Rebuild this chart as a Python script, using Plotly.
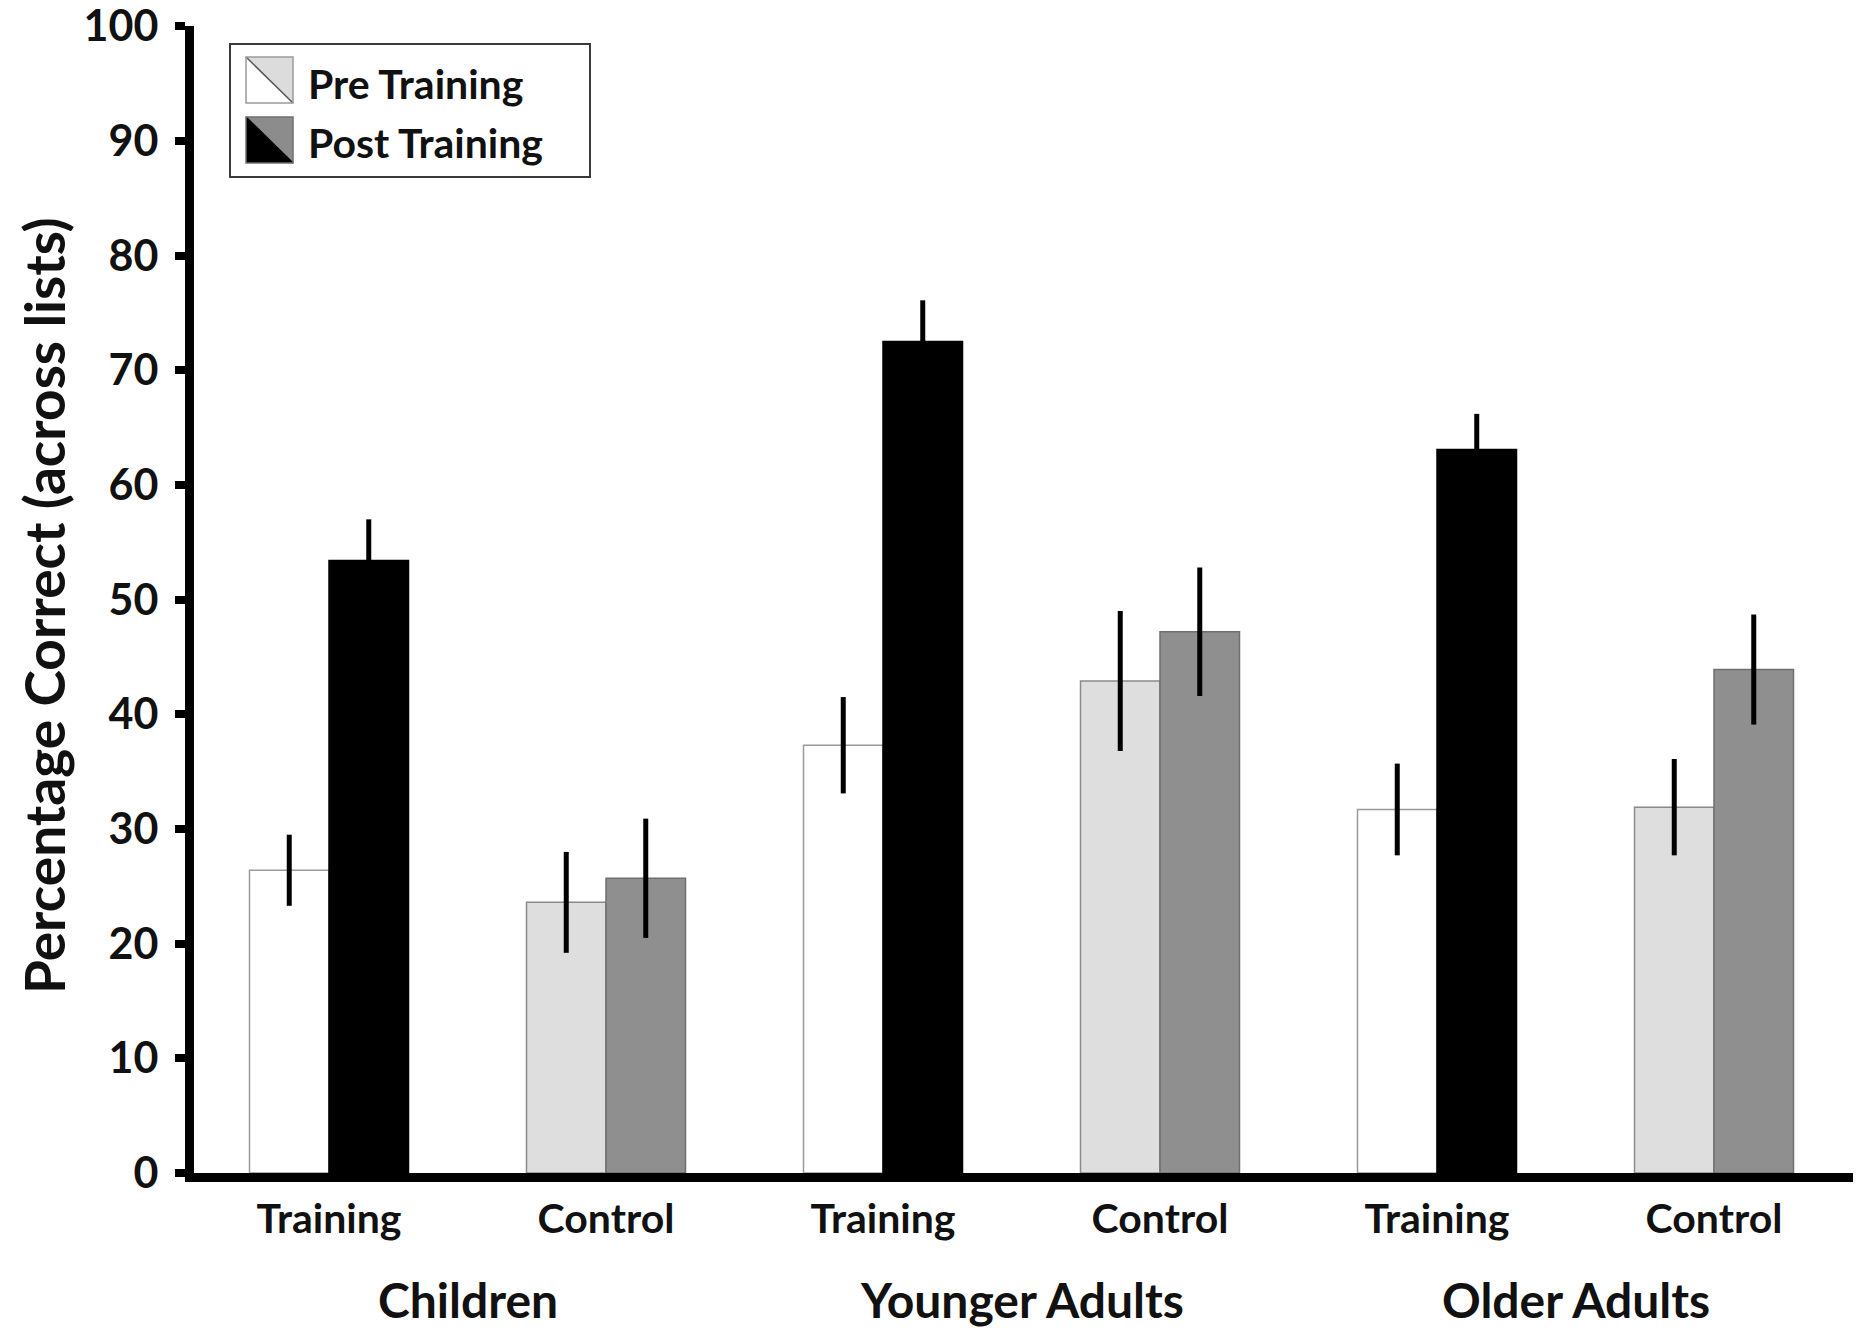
import plotly.graph_objects as go

# ---- data ----
conditions = ["Training", "Control", "Training", "Control", "Training", "Control"]
groups = ["Children", "Younger Adults", "Older Adults"]
pre_values = [26.4, 23.6, 37.3, 42.9, 31.7, 31.9]
post_values = [53.4, 25.7, 72.5, 47.2, 63.1, 43.9]
pre_err = [3.1, 4.4, 4.2, 6.1, 4.0, 4.2]
post_err = [3.6, 5.2, 3.6, 5.6, 3.1, 4.8]
y_ticks = [0, 10, 20, 30, 40, 50, 60, 70, 80, 90, 100]

# ---- styling ----
W, H = 1858, 1334
ML, MR, MT, MB = 194, 5, 26, 161
FONT = "Lato, 'Open Sans', sans-serif"
pre_fill = ["#ffffff" if c == "Training" else "#dedede" for c in conditions]
post_fill = ["#000000" if c == "Training" else "#8f8f8f" for c in conditions]
pre_line = ["#9a9a9a" if c == "Training" else "#8a8a8a" for c in conditions]
post_line = ["#000000" if c == "Training" else "#6f6f6f" for c in conditions]

x = list(range(len(conditions)))

fig = go.Figure()
fig.add_trace(go.Bar(
    name="Pre Training", x=x, y=pre_values,
    marker=dict(color=pre_fill, line=dict(color=pre_line, width=1.5)),
    error_y=dict(type="data", array=pre_err, visible=True, color="#000000",
                 thickness=5, width=0),
    showlegend=False,
))
fig.add_trace(go.Bar(
    name="Post Training", x=x, y=post_values,
    marker=dict(color=post_fill, line=dict(color=post_line, width=1.5)),
    error_y=dict(type="data", array=post_err, visible=True, color="#000000",
                 thickness=5, width=0),
    showlegend=False,
))

pw = W - ML - MR
ph = H - MT - MB


def px2x(p):
    return (p - ML) / pw


def px2y(p):
    return (H - MB - p) / ph


shapes = []
annotations = []

# legend box
shapes.append(dict(type="rect", xref="paper", yref="paper",
                   x0=px2x(230), x1=px2x(590), y0=px2y(177), y1=px2y(44),
                   line=dict(color="#3a3a3a", width=2), fillcolor="white"))


def icon(top, c_low, c_up, diag, border):
    x0, x1 = px2x(246), px2x(293)
    y0, y1 = px2y(top), px2y(top + 46)
    shapes.append(dict(type="path", xref="paper", yref="paper",
                       path=f"M {x0},{y0} L {x0},{y1} L {x1},{y1} Z",
                       fillcolor=c_low, line=dict(width=0)))
    shapes.append(dict(type="path", xref="paper", yref="paper",
                       path=f"M {x0},{y0} L {x1},{y0} L {x1},{y1} Z",
                       fillcolor=c_up, line=dict(width=0)))
    shapes.append(dict(type="line", xref="paper", yref="paper",
                       x0=x0, y0=y0, x1=x1, y1=y1,
                       line=dict(color=diag, width=1.5)))
    shapes.append(dict(type="rect", xref="paper", yref="paper",
                       x0=x0, y0=y1, x1=x1, y1=y0,
                       line=dict(color=border, width=1.5)))


icon(57, "#ffffff", "#dcdcdc", "#555555", "#9a9a9a")
icon(117, "#000000", "#8c8c8c", "#000000", "#6f6f6f")

for label, yc in [("Pre Training", 83), ("Post Training", 142)]:
    annotations.append(dict(text=label, xref="paper", yref="paper",
                            x=px2x(306), y=px2y(yc), xanchor="left", yanchor="middle",
                            showarrow=False,
                            font=dict(family=FONT, size=41, color="#111111", weight="bold")))

# group labels
for i, g in enumerate(groups):
    annotations.append(dict(text=g, xref="x", yref="paper",
                            x=2 * i + 0.5, y=px2y(1299), xanchor="center", yanchor="middle",
                            showarrow=False,
                            font=dict(family=FONT, size=48, color="#111111", weight="bold")))

# y axis title
annotations.append(dict(text="Percentage Correct (across lists)", xref="paper", yref="paper",
                        x=px2x(44), y=px2y(606), xanchor="center", yanchor="middle",
                        textangle=-90, showarrow=False,
                        font=dict(family=FONT, size=55, color="#111111", weight="bold")))

fig.update_layout(
    width=W, height=H,
    margin=dict(l=ML, r=MR, t=MT, b=MB, autoexpand=False),
    paper_bgcolor="white", plot_bgcolor="white",
    barmode="group", bargap=0.426, bargroupgap=0,
    shapes=shapes, annotations=annotations,
    font=dict(family=FONT, color="#111111"),
)
fig.update_xaxes(
    range=[(ML - 329) / 277, (W - MR - 329) / 277],
    tickmode="array", tickvals=x, ticktext=conditions,
    ticks="", showgrid=False, zeroline=False, automargin=False,
    showline=True, linecolor="black", linewidth=9,
    tickfont=dict(family=FONT, size=41, color="#111111", weight="bold"),
    ticklabelstandoff=2,
)
fig.update_yaxes(
    range=[0, 100.02], tickmode="array", tickvals=y_ticks,
    ticks="outside", ticklen=10, tickwidth=8, tickcolor="black",
    showgrid=False, zeroline=False, automargin=False,
    showline=True, linecolor="black", linewidth=9,
    tickfont=dict(family=FONT, size=43, color="#111111", weight="bold"),
    ticklabelstandoff=8, ticklabeloverflow="allow",
)

fig.write_html("out.html", config={"displayModeBar": False},
               post_script="document.body.style.margin='0px';")
